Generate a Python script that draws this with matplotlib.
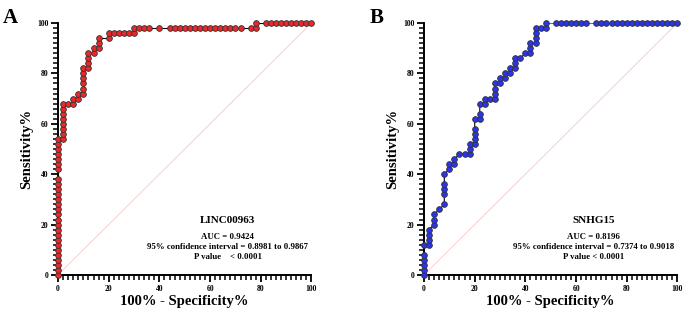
import matplotlib.pyplot as plt
from matplotlib.ticker import MultipleLocator

plt.rcParams['font.family'] = ['Liberation Serif', 'DejaVu Serif']

# ROC points, panel A (LINC00963)
fpr_a = [0, 0, 0, 0, 0, 0, 0, 0, 0, 0, 0, 0, 0, 0, 0, 0, 0, 0, 0, 0,
         0, 0, 0, 0, 0, 0, 0,
         2, 2, 2, 2, 2, 2, 2, 2,
         4, 6, 6, 8, 8,
         10, 10, 10, 10, 10, 10,
         12, 12, 12, 12, 14, 14, 16, 16, 16,
         20, 20, 22, 24, 26, 28, 30, 30, 32, 34, 36, 40,
         44, 46, 48, 50, 52, 54, 56, 58, 60, 62, 64, 66, 68, 70, 72,
         76, 78, 78,
         82, 84, 86, 88, 90, 92, 94, 96, 98, 100]
tpr_a = [0, 2, 4, 6, 8, 10, 12, 14, 16, 18, 20, 22, 24, 26, 28, 30, 32, 34, 36, 38,
         42, 44, 46, 48, 50, 52, 54,
         54, 56, 58, 60, 62, 64, 66, 68,
         68, 68, 70, 70, 72,
         72, 74, 76, 78, 80, 82,
         82, 84, 86, 88, 88, 90, 90, 92, 94,
         94, 96, 96, 96, 96, 96, 96, 98, 98, 98, 98, 98,
         98, 98, 98, 98, 98, 98, 98, 98, 98, 98, 98, 98, 98, 98, 98,
         98, 98, 100,
         100, 100, 100, 100, 100, 100, 100, 100, 100, 100]

# ROC points, panel B (SNHG15)
fpr_b = [0, 0, 0, 0, 0, 0,
         2, 2, 2, 2, 4, 4, 4, 6,
         8, 8, 8, 8, 8,
         10, 10, 12, 12, 14, 16, 18, 18, 18,
         20, 20, 20, 20, 20, 22, 22, 22, 24, 24, 26,
         28, 28, 28, 28, 30, 30, 32, 32, 34, 34,
         36, 36, 36, 38, 40, 42, 42, 42,
         44, 44, 44, 44, 46, 48, 48,
         52, 54, 56, 58, 60, 62, 64,
         68, 70, 72, 74, 76, 78, 80, 82, 84, 86, 88, 90, 92, 94, 96, 98, 100]
tpr_b = [0, 2, 4, 6, 8, 12,
         12, 14, 16, 18, 20, 22, 24, 26,
         28, 32, 34, 36, 40,
         42, 44, 44, 46, 48, 48, 48, 50, 52,
         52, 54, 56, 58, 62, 62, 64, 68, 68, 70, 70,
         70, 72, 74, 76, 76, 78, 78, 80, 80, 82,
         82, 84, 86, 86, 88, 88, 90, 92,
         92, 94, 96, 98, 98, 98, 100,
         100, 100, 100, 100, 100, 100, 100,
         100, 100, 100, 100, 100, 100, 100, 100, 100, 100, 100, 100, 100, 100, 100, 100, 100]

panels = [
    ('A', fpr_a, tpr_a, '#e8282b', 'LINC00963',
     ['AUC = 0.9424', '95% confidence interval = 0.8981 to 0.9867', 'P value    < 0.0001']),
    ('B', fpr_b, tpr_b, '#2b35e6', 'SNHG15',
     ['AUC = 0.8196', '95% confidence interval = 0.7374 to 0.9018', 'P value < 0.0001']),
]

fig = plt.figure(figsize=(6.85, 3.11), dpi=100)
lefts = [0.0847, 0.619]
for (letter, fx, ty, col, name, lines), left in zip(panels, lefts):
    ax = fig.add_axes([left, 0.116, 0.370, 0.810])
    ax.plot([0, 100], [0, 100], color='#f7c8c8', lw=0.6, zorder=1)
    ax.plot(fx, ty, color='black', lw=0.8, zorder=2)
    ax.scatter(fx, ty, s=17, c=col, edgecolors='#333333', linewidths=0.6,
               clip_on=False, zorder=3)
    ax.set_xlim(0, 100)
    ax.set_ylim(0, 100)
    ax.spines['top'].set_visible(False)
    ax.spines['right'].set_visible(False)
    ax.spines['left'].set_linewidth(1.4)
    ax.spines['bottom'].set_linewidth(1.4)
    ax.xaxis.set_major_locator(MultipleLocator(20))
    ax.yaxis.set_major_locator(MultipleLocator(20))
    ax.xaxis.set_minor_locator(MultipleLocator(2))
    ax.yaxis.set_minor_locator(MultipleLocator(2))
    ax.tick_params(axis='both', which='major', direction='out', length=5, width=1.3,
                   color='black', labelsize=5.5, pad=2, bottom=True, left=True)
    ax.tick_params(axis='both', which='minor', direction='out', length=3.5, width=1.1,
                   color='black', bottom=True, left=True)
    for lab in ax.get_xticklabels() + ax.get_yticklabels():
        lab.set_fontweight('bold')
    ax.set_xlabel('100% - Specificity%', fontsize=10.5, fontweight='bold', labelpad=2)
    ax.set_ylabel('Sensitivity%', fontsize=10.5, fontweight='bold', labelpad=3)
    ax.text(67, 21.5, name, ha='center', va='center', fontsize=8, fontweight='bold')
    for i, t in enumerate(lines):
        ax.text(67, 15 - 4 * i, t, ha='center', va='center', fontsize=6.3, fontweight='bold')
    fig.text(left - 0.08, 0.975, letter, ha='left', va='top', fontsize=15, fontweight='bold')

fig.savefig('out.png', dpi=100)
